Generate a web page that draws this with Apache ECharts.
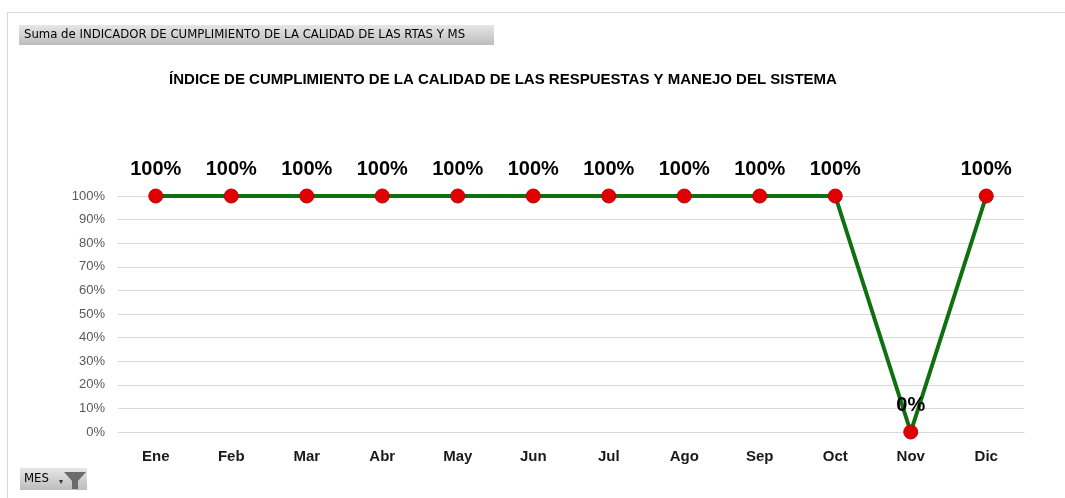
<!DOCTYPE html>
<html><head><meta charset="utf-8">
<script src="https://cdn.jsdelivr.net/npm/echarts@6/dist/echarts.min.js"></script>
<style>html,body{margin:0;padding:0;background:#fff}#c{width:1065px;height:498px}</style>
</head><body><div id="c"></div>
<script>
const categories = ['Ene','Feb','Mar','Abr','May','Jun','Jul','Ago','Sep','Oct','Nov','Dic'];
const values = [1,1,1,1,1,1,1,1,1,1,0,1];
const yTicks = [0,0.1,0.2,0.3,0.4,0.5,0.6,0.7,0.8,0.9,1];
const titleText = 'ÍNDICE DE CUMPLIMIENTO DE LA CALIDAD DE LAS RESPUESTAS Y MANEJO DEL SISTEMA';
const pivotField = 'Suma de INDICADOR DE CUMPLIMIENTO DE LA CALIDAD DE LAS RTAS Y MS';
const pivotAxis = 'MES';

const chart = echarts.init(document.getElementById('c'));
const grad = {type:'linear',x:0,y:0,x2:0,y2:1,colorStops:[{offset:0,color:'#e6e6e6'},{offset:1,color:'#bdbdbd'}]};
chart.setOption({
  animation:false,
  title:{text:titleText,left:498,top:67,textAlign:'center',
    textStyle:{fontFamily:'Liberation Sans, Arial',fontWeight:'bold',fontSize:15,color:'#000'}},
  grid:{left:118,right:41,top:196,bottom:66,containLabel:false},
  xAxis:{type:'category',data:categories,boundaryGap:true,
    axisLine:{show:true,lineStyle:{color:'#d9d9d9'}},axisTick:{show:false},
    axisLabel:{margin:17,fontFamily:'Liberation Sans, Arial',fontWeight:'bold',fontSize:15,color:'#1a1a1a'}},
  yAxis:{type:'value',min:0,max:1,interval:0.1,
    axisLine:{show:false},axisTick:{show:false},
    splitLine:{lineStyle:{color:'#d9d9d9',width:1}},
    axisLabel:{margin:13,fontFamily:'Liberation Sans, Arial',fontSize:13,color:'#595959',
      formatter:v=>Math.round(v*100)+'%'}},
  series:[{type:'line',data:values,symbol:'circle',symbolSize:14,
    lineStyle:{color:'#0f700f',width:4},
    itemStyle:{color:'#e00000',borderColor:'#c00000',borderWidth:1},
    label:{show:true,position:'top',distance:9,fontFamily:'Liberation Sans, Arial',fontWeight:'bold',fontSize:20,color:'#000',
      formatter:p=>Math.round(p.value*100)+'%'}}],
  graphic:[
    {type:'line',shape:{x1:7,y1:12.5,x2:1065,y2:12.5},style:{stroke:'#d9d9d9',lineWidth:1}},
    {type:'line',shape:{x1:7.5,y1:12,x2:7.5,y2:498},style:{stroke:'#d9d9d9',lineWidth:1}},
    {type:'rect',shape:{x:19,y:25,width:475,height:20},style:{fill:grad}},
    {type:'text',x:24,y:35,style:{text:pivotField,fontFamily:'DejaVu Sans Condensed, DejaVu Sans',fontSize:13,fill:'#000',textVerticalAlign:'middle'}},
    {type:'rect',shape:{x:20,y:468,width:67,height:22},style:{fill:grad}},
    {type:'text',x:24,y:479,style:{text:pivotAxis,fontFamily:'DejaVu Sans Condensed, DejaVu Sans',fontSize:13,fill:'#000',textVerticalAlign:'middle'}},
    {type:'text',x:59,y:482,style:{text:'▾',fontSize:8,fill:'#333',textVerticalAlign:'middle'}},
    {type:'polygon',shape:{points:[[64,472],[86,472],[78,481],[78,489],[72,489],[72,481]]},style:{fill:'#6b6b6b'}}
  ]
});
</script></body></html>
